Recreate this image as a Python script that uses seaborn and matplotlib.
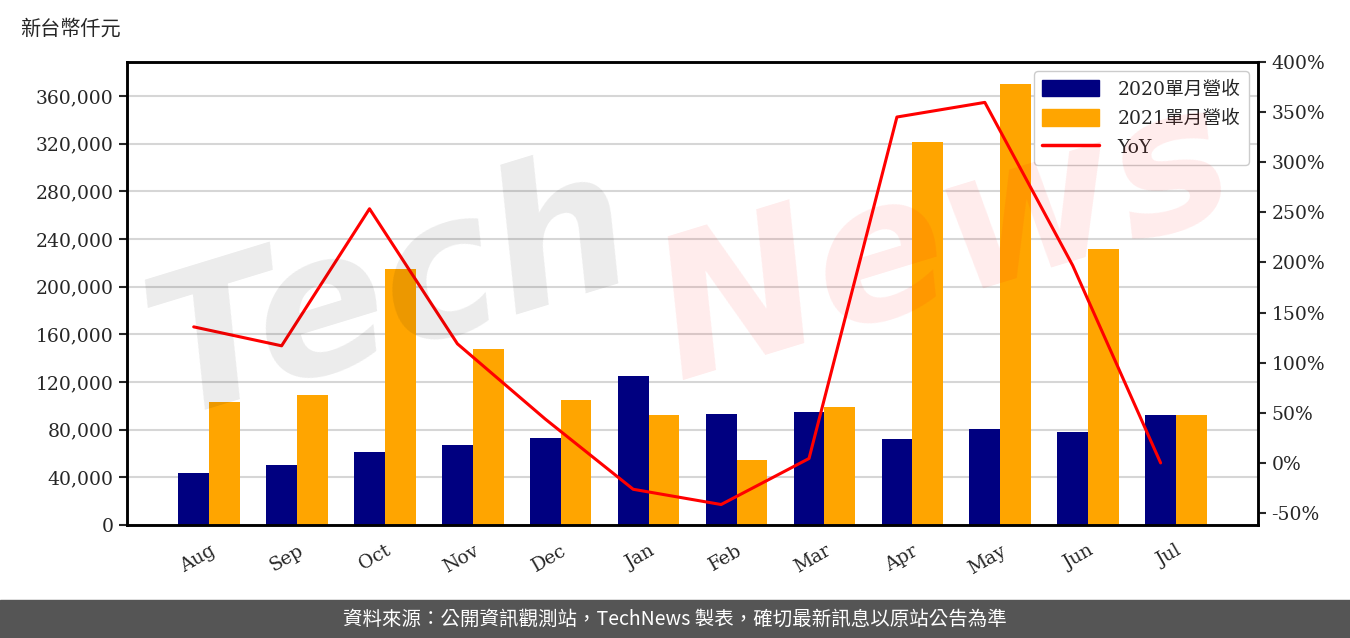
import matplotlib
matplotlib.use('Agg')

import pandas as pd
import matplotlib.pyplot as plt
import seaborn as sns
import numpy as np
from matplotlib.patches import Patch, Rectangle
from matplotlib.lines import Line2D
from matplotlib.ticker import FuncFormatter, MultipleLocator

months = ['Aug', 'Sep', 'Oct', 'Nov', 'Dec', 'Jan', 'Feb', 'Mar', 'Apr', 'May', 'Jun', 'Jul']
rev_2020 = [43600, 50300, 61200, 67100, 73000, 125300, 93100, 94800, 72200, 80500, 78000, 92300]
rev_2021 = [103200, 109300, 214800, 147700, 104900, 92300, 54500, 99000, 321400, 370000, 231600, 92300]
yoy = [135.7, 116.8, 253.5, 118.8, 43.7, -26.3, -41.5, 4.4, 345.0, 359.6, 196.9, 0.0]

label_2020 = '2020單月營收'
label_2021 = '2021單月營收'

sns.set_style('white')
plt.rcParams['font.family'] = ['DejaVu Serif', 'Noto Sans CJK TC']

df = pd.DataFrame({
    'month': months * 2,
    'rev': rev_2020 + rev_2021,
    'series': [label_2020] * 12 + [label_2021] * 12,
})

fig = plt.figure(figsize=(13.5, 6.38), dpi=100)
ax = fig.add_axes([0.094, 0.177, 0.838, 0.726])

sns.barplot(data=df, x='month', y='rev', hue='series', order=months,
            hue_order=[label_2020, label_2021], palette=['navy', 'orange'],
            width=0.7, saturation=1, linewidth=0, edgecolor='none', ax=ax, zorder=2)
ax.get_legend().remove()
ax.set_xlabel('')
ax.set_ylabel('')
ax.set_ylim(0, max(rev_2021) * 1.05)
ax.yaxis.set_major_locator(MultipleLocator(40000))
ax.yaxis.set_major_formatter(FuncFormatter(lambda v, p: f'{int(v):,}'))
ax.grid(axis='y', color='#d6d6d6', linewidth=1.5, zorder=0)
ax.set_axisbelow(True)
ax.tick_params(axis='both', labelsize=13.5, length=6, width=1.5, direction='out')
ax.tick_params(axis='x', pad=6)
for lab in ax.get_xticklabels():
    lab.set_rotation(30)
    lab.set_ha('right')
    lab.set_rotation_mode('anchor')

ax2 = ax.twinx()
x_line = np.arange(len(months)) - 0.175
sns.lineplot(x=x_line, y=yoy, color='red', linewidth=2.2, ax=ax2, zorder=3)
ax2.set_ylim(-62, 400)
ax2.yaxis.set_major_locator(MultipleLocator(50))
ax2.yaxis.set_major_formatter(FuncFormatter(lambda v, p: f'{int(v)}%'))
ax2.tick_params(axis='y', labelsize=13.5, length=6, width=1.5, direction='out')
ax2.set_ylabel('')

for a in (ax, ax2):
    for s in a.spines.values():
        s.set_visible(True)
        s.set_color('black')
        s.set_linewidth(1.8)

handles = [Patch(color='navy', label=label_2020),
           Patch(color='orange', label=label_2021),
           Line2D([0], [0], color='red', linewidth=2.5, label='YoY')]
leg = ax2.legend(handles=handles, loc='upper right', fontsize=13.5, frameon=True,
                 fancybox=True, framealpha=1, edgecolor='#cccccc',
                 handlelength=3.0, handleheight=1.0, borderpad=0.45, labelspacing=0.55,
                 handletextpad=1.0)
leg.set_zorder(5)

# watermark
fig.text(0.29, 0.54, 'Tech', fontsize=140, color='black', alpha=0.08,
         rotation=17, ha='center', va='center', fontstyle='italic',
         fontweight='bold', family='DejaVu Sans')
fig.text(0.70, 0.62, 'News', fontsize=140, color='red', alpha=0.08,
         rotation=17, ha='center', va='center', fontstyle='italic',
         fontweight='bold', family='DejaVu Sans')

fig.text(0.015, 0.955, '新台幣仟元', fontsize=14.5, family=['Noto Sans CJK TC'],
         ha='left', va='center')

fig.patches.append(Rectangle((0, 0), 1, 38 / 638, transform=fig.transFigure,
                             color='#555555', zorder=0))
fig.text(0.5, 19 / 638, '資料來源：公開資訊觀測站，TechNews 製表，確切最新訊息以原站公告為準',
         color='white', fontsize=14, ha='center', va='center',
         family=['Noto Sans CJK TC', 'DejaVu Sans'])

fig.savefig('out.png', dpi=100)
